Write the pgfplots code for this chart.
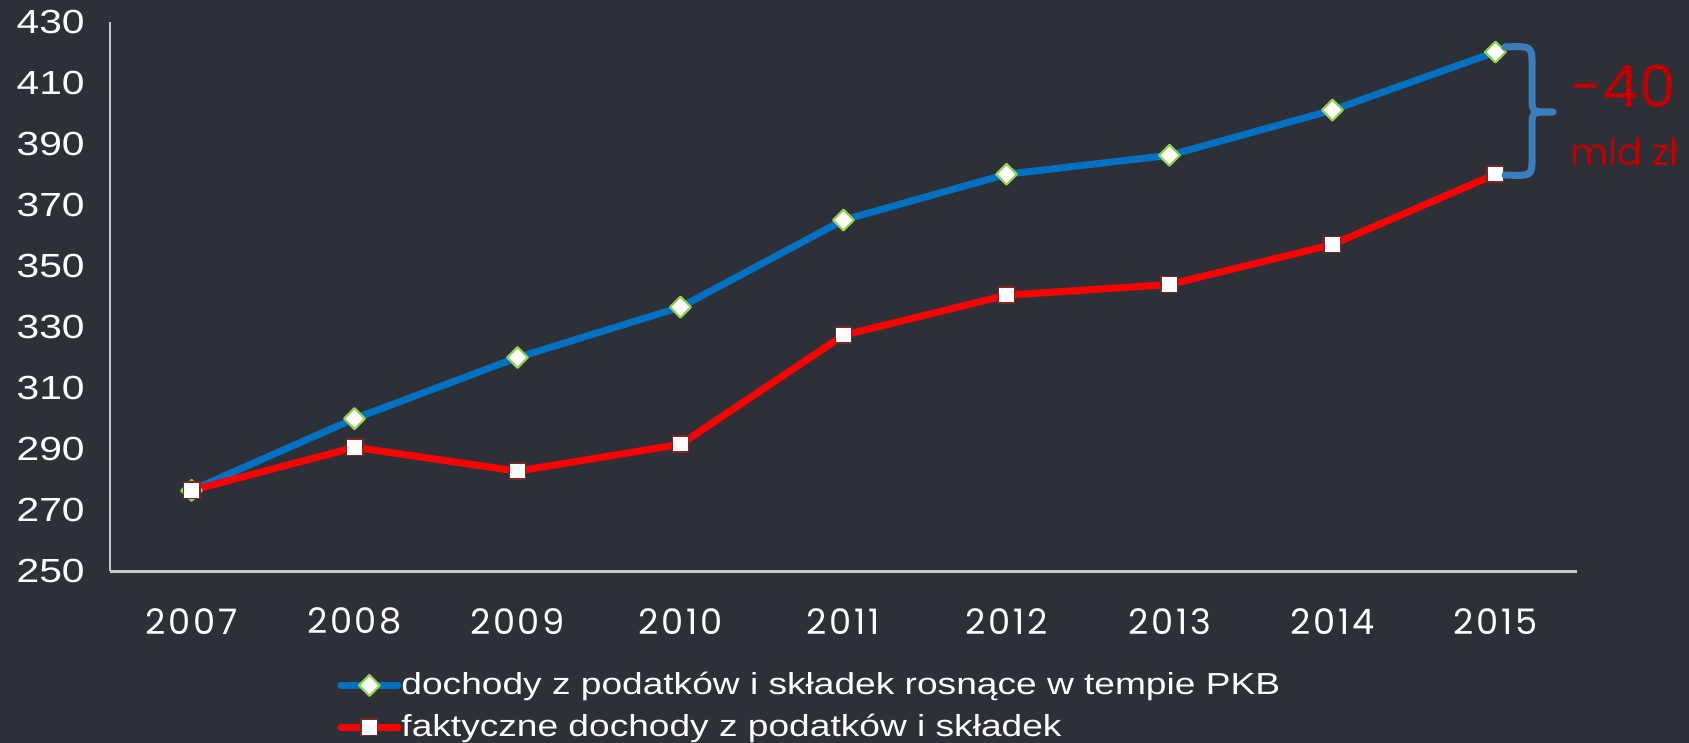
\documentclass[border=0pt]{standalone}
\usepackage{fontspec}
\setmainfont{Liberation Sans}[FakeStretch=1.22]
\newfontfamily\xfont{Poppins}[LetterSpace=8]
\newfontfamily\annfont{Poppins}
\usepackage{pgfplots}
\pgfplotsset{compat=1.18}

\definecolor{bg}{RGB}{46,48,56}
\definecolor{axgray}{RGB}{200,200,202}
\definecolor{pkbblue}{RGB}{0,112,192}
\definecolor{factred}{RGB}{255,0,0}
\definecolor{mkgreen}{RGB}{146,208,80}
\definecolor{mkdred}{RGB}{125,40,40}
\definecolor{bracecol}{RGB}{58,126,190}
\definecolor{anntext}{RGB}{192,0,0}

\begin{document}
\begin{tikzpicture}
% whole page, measured in pixels of the reference (y downwards)
\begin{scope}[x=0.01cm, y=-0.01cm]
  \fill[bg] (0,0) rectangle (1689,743);
\end{scope}

\begin{axis}[
    at={(1.10cm,-5.71cm)}, anchor=south west,
    scale only axis, width=14.66cm, height=5.495cm,
    xmin=-0.5, xmax=8.5, ymin=250, ymax=430,
    axis lines=left, axis line style={-, axgray, line width=0.7pt},
    major tick length=0pt,
    xtick={0,...,8},
    xticklabels={2007,2008,2009,2010,2011,2012,2013,2014,2015},
    ytick={250,270,...,430},
    /pgf/number format/assume math mode=true,
    /pgf/number format/1000 sep={},
    yticklabel style={font=\fontsize{9.5}{11}\selectfont, text=white, xshift=-0.13cm},
    xticklabel style={font=\xfont\fontsize{10}{12}\selectfont, text=white, anchor=center, yshift=-0.50cm},
    clip=false,
    legend cell align=left,
    legend style={at={(0.1545,-0.171)}, anchor=north west, draw=none, fill=none,
        text=white, font=\fontsize{8.65}{10}\selectfont, inner sep=0pt,
        row sep=0.95pt, column sep=-1pt,
        nodes={inner xsep=1pt, inner ysep=1pt, text height=7pt, text depth=2pt}},
    legend image code/.code={\draw[mark repeat=2, mark phase=2, #1]
        plot coordinates {(0cm,0cm) (0.285cm,0cm) (0.57cm,0cm)};},
]
\addplot[pkbblue, line width=2pt, line join=round, line cap=round,
    mark=square*, mark size=2.1pt,
    mark options={fill=white, draw=mkgreen, line width=0.6pt, rotate=45}]
    coordinates {(0,276.5) (1,300) (2,320) (3,336.5) (4,365) (5,380) (6,386.2) (7,401) (8,420)};
\addlegendentry{dochody z podatków i składek rosnące w tempie PKB}
\addplot[factred, line width=2pt, line join=round, line cap=round,
    mark=square*, mark size=2.3pt,
    mark options={fill=white, draw=mkdred, line width=0.5pt}]
    coordinates {(0,276.5) (1,290.6) (2,282.8) (3,291.6) (4,327.3) (5,340.4) (6,343.9) (7,357) (8,380)};
\addlegendentry{faktyczne dochody z podatków i składek}
\end{axis}

\begin{scope}[x=0.01cm, y=-0.01cm]
  \draw[bracecol, line width=2pt, line cap=round, line join=round]
    (1505,47) .. controls (1532,46) .. (1532,66) -- (1532,98)
    .. controls (1532,112) .. (1553,112)
    .. controls (1532,112) .. (1532,126) -- (1532,158)
    .. controls (1532,176) .. (1505,175);
  \node[anchor=west, inner sep=0pt, text=anntext, font=\annfont\fontsize{16.5}{19}\selectfont]
    at (1570,86) {-40};
  \node[anchor=base west, inner sep=0pt, text=anntext, font=\annfont\fontsize{10.5}{13}\selectfont]
    at (1570,166) {mld zł};
  \pgfresetboundingbox
  \useasboundingbox (0,0) rectangle (1689,743);
\end{scope}
\end{tikzpicture}
\end{document}
